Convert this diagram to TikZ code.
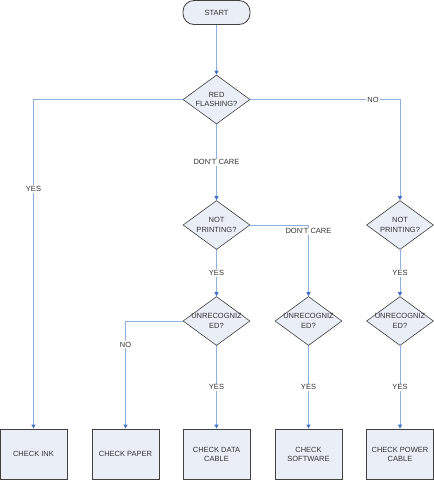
\documentclass[tikz,border=0pt]{standalone}
\usepackage{fontspec}
\setmainfont{Liberation Sans}
\usetikzlibrary{shapes.geometric,arrows.meta,calc}
\definecolor{boxfill}{HTML}{E9EEF7}
\definecolor{boxline}{HTML}{404040}
\definecolor{conn}{HTML}{8EB0E0}
\definecolor{tipc}{HTML}{4472C4}
\begin{document}
\begin{tikzpicture}[x=1pt,y=-1pt,
  font=\fontsize{7.5}{9}\selectfont,
  every node/.style={text=black!80},
  procbox/.style={draw=boxline,line width=0.8pt,fill=boxfill,minimum width=67pt,minimum height=50pt,inner sep=0pt,align=center},
  startbox/.style={draw=boxline,line width=0.8pt,fill=boxfill,rounded corners=11pt,minimum width=67pt,minimum height=24pt,inner sep=0pt},
  decision/.style={draw=boxline,line width=0.6pt,fill=boxfill,diamond,minimum width=67pt,minimum height=49pt,inner sep=0pt},
  dtext/.style={align=center,inner sep=0pt,font=\fontsize{7.5}{9.5}\selectfont},
  conn/.style={draw=conn,line width=0.9pt,-{Triangle[length=4pt,width=4pt,color=tipc]}},
  lbl/.style={fill=white,inner sep=1pt}]
\useasboundingbox[fill=white] (0,0) rectangle (434,480);

\node[startbox] (start) at (216.5,12.5) {START};

\node[decision] (d1) at (216.5,99.5) {};
\node[dtext] (t1) at (d1.center) {RED\\FLASHING?};
\node[decision] (d2) at (216.5,225) {};
\node[dtext] (t2) at (d2.center) {NOT\\PRINTING?};
\node[decision] (d3) at (400,225) {};
\node[dtext] (t3) at (d3.center) {NOT\\PRINTING?};
\node[decision] (u1) at (216.5,321) {};
\node[dtext] (tu1) at (u1.center) {UNRECOGNIZ\\ED?};
\node[decision] (u2) at (308.5,321) {};
\node[dtext] (tu2) at (u2.center) {UNRECOGNIZ\\ED?};
\node[decision] (u3) at (400,321) {};
\node[dtext] (tu3) at (u3.center) {UNRECOGNIZ\\ED?};

\node[procbox] (b1) at (33.5,454) {CHECK INK};
\node[procbox] (b2) at (125.5,454) {CHECK PAPER};
\node[procbox] (b3) at (216.5,454) {CHECK DATA\\CABLE};
\node[procbox] (b4) at (308.5,454) {CHECK\\SOFTWARE};
\node[procbox] (b5) at (400,454) {CHECK POWER\\CABLE};

\draw[conn] (start) -- (d1);
\draw[conn] (d1.west) -| (b1.north) node[lbl,pos=0.636] {YES};
\draw[conn] (d1.south) -- (d2.north) node[lbl,pos=0.5] {DON'T CARE};
\draw[conn] (d1.east) -| (d3.north) node[lbl,pos=0.41] {NO};
\draw[conn] (d2.east) -| (u2.north) node[lbl,pos=0.545] {DON'T CARE};
\draw[conn] (d2.south) -- (u1.north) node[lbl,midway] {YES};
\draw[conn] (d3.south) -- (u3.north) node[lbl,midway] {YES};
\draw[conn] (u1.west) -| (b2.north) node[lbl,pos=0.61] {NO};
\draw[conn] (u1.south) -- (b3.north) node[lbl,pos=0.5] {YES};
\draw[conn] (u2.south) -- (b4.north) node[lbl,pos=0.5] {YES};
\draw[conn] (u3.south) -- (b5.north) node[lbl,pos=0.5] {YES};
\end{tikzpicture}
\end{document}
